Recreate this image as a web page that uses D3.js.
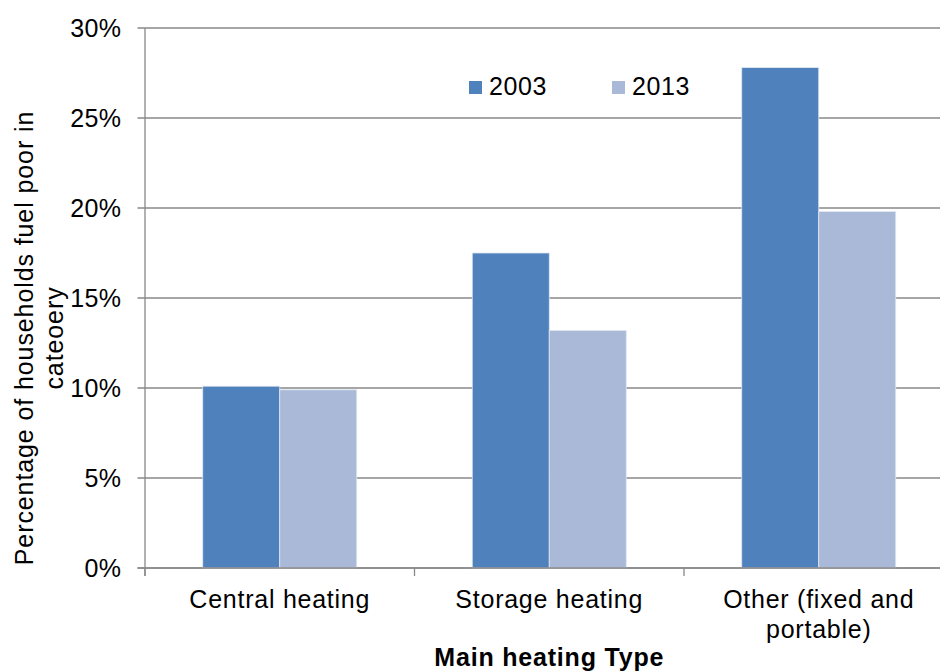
<!DOCTYPE html>
<html>
<head>
<meta charset="utf-8">
<script src="https://cdn.jsdelivr.net/npm/d3@7"></script>
<style>
  html, body { margin: 0; padding: 0; background: #fff; }
  svg { display: block; font-family: "Liberation Sans", Arial, sans-serif; }
</style>
</head>
<body>
<svg id="chart" width="940" height="671"></svg>
<script>
const categories = [["Central heating"], ["Storage heating"], ["Other (fixed and", "portable)"]];
const seriesNames = ["2003", "2013"];
const values2003 = [0.101, 0.175, 0.278];
const values2013 = [0.099, 0.132, 0.198];
const yTicks = [0, 0.05, 0.10, 0.15, 0.20, 0.25, 0.30];
const colors = ["#4F81BD", "#AAB9D7"];

(function () {
const svg = d3.select("#chart");
const pL = 145, pR = 953.5, pT = 28, pB = 568;
const fs = 25;

const x0 = d3.scaleBand().domain(d3.range(categories.length)).range([pL, pR]).paddingInner(0).paddingOuter(0);
const bw = x0.bandwidth();
const x1 = d3.scaleBand().domain(seriesNames).range([bw * 0.2143, bw * 0.7857]).padding(0);
const y = d3.scaleLinear().domain([0, 0.30]).range([pB, pT]);

// gridlines
svg.append("g").selectAll("line").data(yTicks).join("line")
  .attr("x1", pL - 7.5).attr("x2", 940)
  .attr("y1", d => y(d)).attr("y2", d => y(d))
  .attr("stroke", "#888").attr("stroke-width", 1.3);

// y tick labels
svg.append("g").selectAll("text").data(yTicks).join("text")
  .attr("x", 121.5).attr("y", d => y(d) + 9)
  .attr("text-anchor", "end").attr("font-size", fs).attr("fill", "#000")
  .attr("letter-spacing", 0.4)
  .text(d => d3.format(".0%")(d));

// bars
const data = seriesNames.map((s, i) => ({ name: s, vals: i === 0 ? values2003 : values2013, color: colors[i] }));
const gBars = svg.append("g");
data.forEach(s => {
  gBars.append("g").selectAll("rect").data(s.vals).join("rect")
    .attr("x", (d, i) => x0(i) + x1(s.name))
    .attr("width", x1.bandwidth())
    .attr("y", d => y(d))
    .attr("height", d => y(0) - y(d))
    .attr("fill", s.color)
    .attr("stroke", "#dfe7f2").attr("stroke-width", 0.8);
});

// y axis line
svg.append("line").attr("x1", pL).attr("x2", pL).attr("y1", pT).attr("y2", pB + 8)
  .attr("stroke", "#888").attr("stroke-width", 1.3);
// x axis line
svg.append("line").attr("x1", pL - 7.5).attr("x2", 940).attr("y1", pB).attr("y2", pB)
  .attr("stroke", "#888").attr("stroke-width", 1.3);
// x ticks
const bounds = d3.range(categories.length + 1).map(i => pL + i * bw);
svg.append("g").selectAll("line").data(bounds).join("line")
  .attr("x1", d => d).attr("x2", d => d).attr("y1", pB).attr("y2", pB + 8)
  .attr("stroke", "#888").attr("stroke-width", 1.3);

// x labels
const xl = svg.append("g").selectAll("text").data(categories).join("text")
  .attr("text-anchor", "middle").attr("font-size", fs).attr("fill", "#000")
  .attr("letter-spacing", 0.75)
  .attr("transform", (d, i) => `translate(${x0(i) + bw / 2},608)`);
xl.selectAll("tspan").data(d => d).join("tspan")
  .attr("x", 0).attr("y", (d, j) => j * 30).text(d => d);

// x title
svg.append("text").attr("x", (pL + pR) / 2).attr("y", 666)
  .attr("text-anchor", "middle").attr("font-size", fs).attr("font-weight", "bold")
  .attr("letter-spacing", 0.8)
  .text("Main heating Type");

// y title
const yt = svg.append("text").attr("transform", "translate(0,338) rotate(-90)")
  .attr("text-anchor", "middle").attr("font-size", fs).attr("letter-spacing", 0.9);
yt.append("tspan").attr("x", 0).attr("y", 33).text("Percentage of households fuel poor in");
yt.append("tspan").attr("x", 0).attr("y", 63).text("cateoery");

// legend
const legX = [469, 612];
const lg = svg.append("g").selectAll("g").data(data).join("g")
  .attr("transform", (d, i) => `translate(${legX[i]},0)`);
lg.append("rect").attr("x", 0).attr("y", 81).attr("width", 13).attr("height", 13).attr("fill", d => d.color);
lg.append("text").attr("x", 20).attr("y", 95).attr("font-size", fs).attr("letter-spacing", 0.6).text(d => d.name);
})();
</script>
</body>
</html>
